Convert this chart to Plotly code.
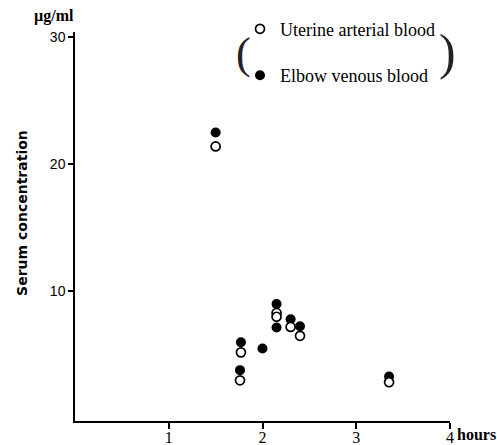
import plotly.graph_objects as go

# Data (hours, µg/ml)
uterine_x = [1.5, 1.77, 1.76, 2.15, 2.15, 2.3, 2.4, 3.35]
uterine_y = [21.4, 5.2, 3.0, 8.3, 8.0, 7.2, 6.5, 2.85]
elbow_x = [1.5, 1.77, 1.76, 2.0, 2.15, 2.15, 2.3, 2.4, 3.35]
elbow_y = [22.5, 6.0, 3.8, 5.5, 9.0, 7.15, 7.8, 7.25, 3.3]

x_ticks = [1, 2, 3, 4]
y_ticks = [10, 20, 30]

fig = go.Figure()
fig.add_trace(go.Scatter(
    x=elbow_x, y=elbow_y, mode="markers", name="Elbow venous blood",
    legendgroup="b", legendrank=2,
    marker=dict(symbol="circle", size=10, color="black", line=dict(width=0)),
))
fig.add_trace(go.Scatter(
    x=uterine_x, y=uterine_y, mode="markers", name="Uterine arterial blood",
    legendgroup="a", legendrank=1,
    marker=dict(symbol="circle", size=9, color="white", line=dict(width=1.7, color="black")),
))

fig.update_layout(
    width=497, height=445,
    margin=dict(l=75, r=47, t=32, b=24, autoexpand=False),
    plot_bgcolor="white", paper_bgcolor="white",
    showlegend=True,
    legend=dict(
        x=0.44, y=1.055, xanchor="left", yanchor="top",
        font=dict(family="Liberation Serif", size=18, color="black"),
        bgcolor="rgba(0,0,0,0)", tracegroupgap=20, traceorder="grouped",
        itemwidth=30,
    ),
    xaxis=dict(
        range=[0, 4], tickvals=x_ticks, ticktext=[str(v) for v in x_ticks],
        showline=True, linecolor="black", linewidth=1.5, mirror=False,
        ticks="outside", ticklen=6, tickwidth=1.5, tickcolor="black",
        showgrid=False, zeroline=False, automargin=False,
        ticklabelstandoff=-5,
        tickfont=dict(family="Liberation Serif", size=16, color="black"),
    ),
    yaxis=dict(
        range=[-0.2, 30.4], tickvals=y_ticks, ticktext=[str(v) for v in y_ticks],
        showline=True, linecolor="black", linewidth=1.5,
        ticks="outside", ticklen=5, tickwidth=1.5, tickcolor="black",
        showgrid=False, zeroline=False, automargin=False,
        tickfont=dict(family="Liberation Sans", size=14, color="black"),
    ),
    annotations=[
        dict(text="Serum concentration", x=-0.1413, y=0.535, xref="paper", yref="paper",
             textangle=-90, showarrow=False, xanchor="center", yanchor="middle",
             font=dict(family="DejaVu Sans", size=14, color="black", weight="bold")),
        dict(text="<b>µg/ml</b>", x=-0.056, y=1.041, xref="paper", yref="paper",
             showarrow=False, xanchor="center", yanchor="middle",
             font=dict(family="Liberation Serif", size=16, color="black")),
        dict(text="<b>hours</b>", x=1.0133, y=-0.034, xref="paper", yref="paper",
             showarrow=False, xanchor="left", yanchor="middle",
             font=dict(family="Liberation Serif", size=16, color="black")),
        dict(text="(", x=(243 - 75) / 375, y=(420.5 - 53) / 388.5, xref="paper", yref="paper",
             showarrow=False, xanchor="center", yanchor="middle",
             font=dict(family="Liberation Serif", size=44, color="#222")),
        dict(text=")", x=(447 - 75) / 375, y=(420.5 - 52) / 388.5, xref="paper", yref="paper",
             showarrow=False, xanchor="center", yanchor="middle",
             font=dict(family="Liberation Serif", size=50, color="#222")),
    ],
)

fig.write_html("out.html")
